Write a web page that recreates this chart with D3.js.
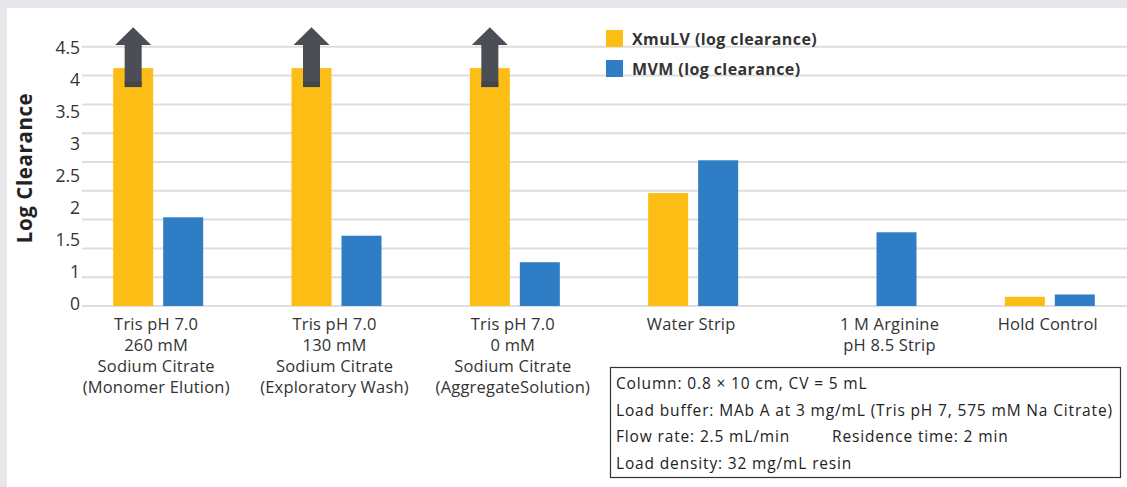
<!DOCTYPE html>
<html>
<head>
<meta charset="utf-8">
<script src="https://cdn.jsdelivr.net/npm/d3@7"></script>
<style>
  html, body { margin: 0; padding: 0; background: #fff; }
  svg { display: block; font-family: "Open Sans", Lato, sans-serif; }
</style>
</head>
<body>
<svg id="chart" width="1127" height="487"></svg>
<script>
// ---- data ----
const categories = [
  ["Tris pH 7.0", "260 mM", "Sodium Citrate", "(Monomer Elution)"],
  ["Tris pH 7.0", "130 mM", "Sodium Citrate", "(Exploratory Wash)"],
  ["Tris pH 7.0", "0 mM", "Sodium Citrate", "(AggregateSolution)"],
  ["Water Strip"],
  ["1 M Arginine", "pH 8.5 Strip"],
  ["Hold Control"]
];
const seriesNames = ["XmuLV (log clearance)", "MVM (log clearance)"];
const xmulvValues = [4.13, 4.13, 4.13, 1.96, 0, 0.16];
const mvmValues = [1.54, 1.22, 0.76, 2.53, 1.28, 0.2];
const exceedsLimit = [true, true, true, false, false, false];
const gridValues = [0, 0.5, 1, 1.5, 2, 2.5, 3, 3.5, 4, 4.5];
const tickLabels = ["0", "1", "1.5", "2", "2.5", "3", "3.5", "4", "4.5"];
const yTitle = "Log Clearance";
const noteLines = [
  "Column: 0.8 \u00d7 10 cm, CV = 5 mL",
  "Load buffer: MAb A at 3 mg/mL (Tris pH 7, 575 mM Na Citrate)",
  "Flow rate: 2.5 mL/min",
  "Load density: 32 mg/mL resin"
];
const noteExtra = "Residence time: 2 min";

// ---- layout ----
const colors = ["#FCBD14", "#2F7DC4"];
const svg = d3.select("#chart");
const W = 1127, H = 487;

svg.append("rect").attr("width", W).attr("height", H).attr("fill", "#e6e7eb");
svg.append("rect").attr("x", 7).attr("y", 8).attr("width", W - 7).attr("height", H - 8).attr("fill", "#fff");

const y = d3.scaleLinear().domain([0, 4.5]).range([306, 46.8]);
const x0 = d3.scaleBand().domain(d3.range(categories.length)).range([69, 1139]);
const x1 = d3.scaleBand().domain([0, 1])
  .range([x0.bandwidth() / 2 - 45, x0.bandwidth() / 2 + 45]).paddingInner(0.2);

// gridlines
svg.append("g").selectAll("line").data(gridValues).join("line")
  .attr("x1", 82).attr("x2", W)
  .attr("y1", d => y(d)).attr("y2", d => y(d))
  .attr("stroke", "#dedede").attr("stroke-width", 2);

// tick labels (evenly spaced, as in the original)
const yLab = d3.scalePoint().domain(tickLabels).range([305, 49.5]);
svg.append("g").selectAll("text").data(tickLabels).join("text")
  .attr("x", 80).attr("y", d => yLab(d))
  .attr("text-anchor", "end").attr("dominant-baseline", "middle")
  .attr("font-size", 17.5).attr("fill", "#333")
  .text(d => d);

// y title
svg.append("text")
  .attr("transform", "translate(32,168) rotate(-90)")
  .attr("text-anchor", "middle")
  .attr("font-size", 20.5).attr("letter-spacing", 0.6)
  .attr("font-weight", "bold").attr("fill", "#222")
  .text(yTitle);

// bars
const rows = categories.map((c, i) => ({ i, vals: [xmulvValues[i], mvmValues[i]] }));
const groups = svg.append("g").selectAll("g").data(rows).join("g")
  .attr("transform", d => `translate(${x0(d.i)},0)`);
groups.selectAll("rect").data(d => d.vals.map((v, k) => ({ v, k }))).join("rect")
  .filter(d => d.v > 0)
  .attr("x", d => x1(d.k)).attr("width", x1.bandwidth())
  .attr("y", d => y(d.v)).attr("height", d => y(0) - y(d.v))
  .attr("fill", d => colors[d.k]);

// arrows for values beyond the limit
const arrowRows = rows.filter(d => exceedsLimit[d.i]);
svg.append("g").selectAll("path").data(arrowRows).join("path")
  .attr("d", d => {
    const cx = x0(d.i) + x1(0) + x1.bandwidth() / 2;
    const top = y(4.84), headBase = y(4.53), bottom = y(3.8);
    const sw = 8.5, hw = 18;
    return `M${cx},${top} L${cx + hw},${headBase} L${cx + sw},${headBase} L${cx + sw},${bottom}
            L${cx - sw},${bottom} L${cx - sw},${headBase} L${cx - hw},${headBase} Z`;
  })
  .attr("fill", "#4b4e54");
svg.append("g").selectAll("rect").data(arrowRows).join("rect")
  .attr("x", d => x0(d.i) + x1(0) + x1.bandwidth() / 2 - 8.5)
  .attr("width", 17)
  .attr("y", y(3.9)).attr("height", y(3.8) - y(3.9))
  .attr("fill", "#3d3f44").attr("opacity", 0.6);

// category labels
const labelShift = [0, 0, 0, 0, 20, 0];
const cats = svg.append("g").selectAll("text").data(rows).join("text")
  .attr("text-anchor", "middle")
  .attr("font-size", 16.5).attr("letter-spacing", 0.2).attr("fill", "#333")
  .attr("transform", d => `translate(${x0(d.i) + x0.bandwidth() / 2 - 2 + labelShift[d.i]},330)`);
cats.selectAll("tspan").data(d => categories[d.i]).join("tspan")
  .attr("x", 0).attr("y", (d, k) => k * 21)
  .text(d => d);

// legend
const leg = svg.append("g").selectAll("g").data(seriesNames).join("g")
  .attr("transform", (d, k) => `translate(606,${30 + k * 30})`);
leg.append("rect").attr("width", 17).attr("height", 17).attr("fill", (d, k) => colors[k]);
leg.append("text").attr("x", 26).attr("y", 14.5)
  .attr("font-size", 16).attr("letter-spacing", 0.4)
  .attr("font-weight", "bold").attr("fill", "#333")
  .text(d => d);

// notes box
const box = svg.append("g").attr("transform", "translate(610,367)");
box.append("rect").attr("x", 0.5).attr("y", 0.5).attr("width", 510).attr("height", 110)
  .attr("fill", "#fff").attr("stroke", "#333").attr("stroke-width", 1.2);
box.selectAll("text.note").data(noteLines).join("text").attr("class", "note")
  .attr("x", 6).attr("y", (d, k) => 22 + k * 26.5)
  .attr("font-size", 15.5).attr("letter-spacing", 0.85).attr("fill", "#222")
  .text(d => d);
box.append("text").attr("x", 222).attr("y", 22 + 2 * 26.5)
  .attr("font-size", 15.5).attr("letter-spacing", 0.85).attr("fill", "#222").text(noteExtra);
</script>
</body>
</html>
